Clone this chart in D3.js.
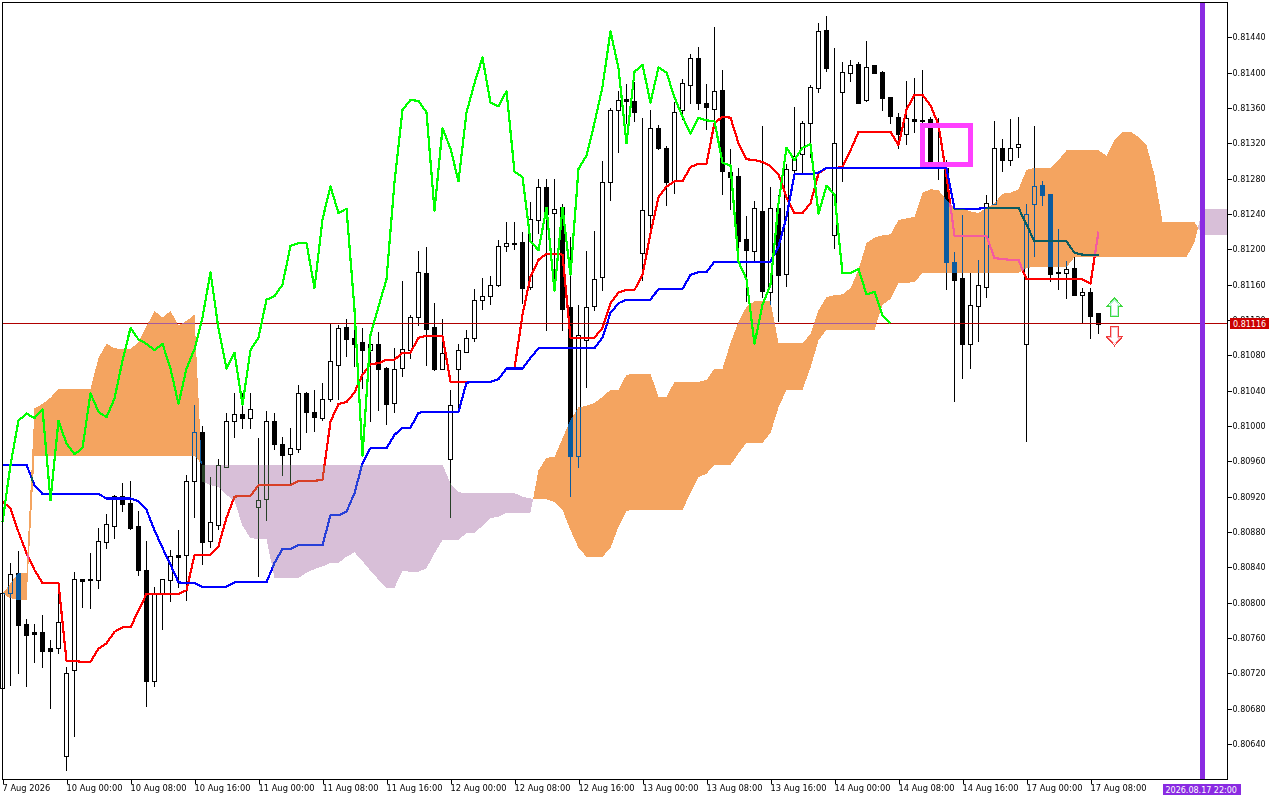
<!DOCTYPE html>
<html>
<head>
<meta charset="utf-8">
<script src="https://d3js.org/d3.v7.min.js"></script>
<style>
html, body { margin: 0; padding: 0; background: #fff; }
svg { display: block; }
text { font-family: "DejaVu Sans", sans-serif; font-size: 8px; }
</style>
</head>
<body>
<svg id="chart" width="1280" height="800"></svg>
<script>
var open = [0.80704,0.80810,0.80834,0.80776,0.80767,0.80767,0.80749,0.80749,0.80626,0.80724,
0.80827,0.80826,0.80826,0.80869,0.80887,0.80921,0.80913,0.80887,0.80837,0.80711,
0.80811,0.80826,0.80854,0.80854,0.80937,0.80993,0.80870,0.80888,0.80954,0.81006,
0.81014,0.81009,0.80908,0.80918,0.81006,0.80980,0.80968,0.80974,0.81037,0.81016,
0.81010,0.81031,0.81069,0.81112,0.81100,0.81095,0.81086,0.81093,0.81066,0.81027,
0.81065,0.81086,0.81123,0.81173,0.81112,0.81065,0.80963,0.81065,0.81084,0.81100,
0.81143,0.81148,0.81160,0.81204,0.81206,0.81208,0.81157,0.81234,0.81271,0.81241,
0.81248,0.81135,0.80966,0.81098,0.81135,0.81168,0.81276,0.81358,0.81370,0.81368,
0.81195,0.81239,0.81337,0.81315,0.81277,0.81357,0.81387,0.81417,0.81366,0.81359,
0.81380,0.81288,0.81283,0.81212,0.81198,0.81243,0.81152,0.81247,0.81172,0.81290,
0.81308,0.81343,0.81383,0.81448,0.81216,0.81378,0.81400,0.81410,0.81369,0.81409,
0.81401,0.81372,0.81350,0.81331,0.81348,0.81346,0.81348,0.81294,0.81292,0.81186,
0.81168,0.81093,0.81136,0.81157,0.81252,0.81315,0.81301,0.81316,0.81093,0.81252,
0.81273,0.81263,0.81174,0.81173,0.81179,0.81149,0.81152,0.81128];
var high = [0.80811,0.80845,0.80859,0.80781,0.80776,0.80786,0.80758,0.80811,0.80727,0.80835,
0.80827,0.80856,0.80885,0.80900,0.80922,0.80935,0.80938,0.80904,0.80870,0.80818,
0.80827,0.80860,0.80882,0.80945,0.81024,0.81000,0.80942,0.80963,0.81015,0.81037,
0.81037,0.81037,0.80986,0.81017,0.81015,0.80988,0.80998,0.81046,0.81038,0.81041,
0.81049,0.81117,0.81114,0.81121,0.81112,0.81111,0.81103,0.81106,0.81067,0.81088,
0.81164,0.81126,0.81198,0.81203,0.81139,0.81121,0.81041,0.81093,0.81109,0.81155,
0.81168,0.81170,0.81210,0.81231,0.81231,0.81220,0.81254,0.81280,0.81280,0.81280,
0.81251,0.81214,0.81137,0.81198,0.81221,0.81300,0.81360,0.81379,0.81387,0.81389,
0.81349,0.81358,0.81341,0.81317,0.81367,0.81393,0.81421,0.81429,0.81387,0.81452,
0.81403,0.81314,0.81292,0.81238,0.81255,0.81340,0.81271,0.81262,0.81297,0.81361,
0.81345,0.81386,0.81456,0.81464,0.81428,0.81412,0.81414,0.81412,0.81436,0.81409,
0.81402,0.81372,0.81354,0.81391,0.81394,0.81403,0.81350,0.81349,0.81301,0.81197,
0.81239,0.81173,0.81188,0.81262,0.81345,0.81325,0.81348,0.81350,0.81251,0.81340,
0.81277,0.81263,0.81223,0.81187,0.81191,0.81156,0.81156,0.81128];
var low = [0.80701,0.80706,0.80719,0.80704,0.80732,0.80726,0.80680,0.80742,0.80609,0.80648,
0.80794,0.80793,0.80815,0.80861,0.80872,0.80903,0.80882,0.80830,0.80682,0.80704,
0.80769,0.80801,0.80817,0.80802,0.80896,0.80843,0.80862,0.80882,0.80954,0.80986,
0.80997,0.80997,0.80829,0.80892,0.80973,0.80943,0.80934,0.80969,0.80992,0.80993,
0.81006,0.81027,0.81029,0.81078,0.81067,0.81042,0.81005,0.81017,0.81001,0.81015,
0.81056,0.81076,0.81113,0.81068,0.81062,0.81065,0.80896,0.81016,0.81083,0.81095,
0.81131,0.81137,0.81157,0.81197,0.81199,0.81138,0.81154,0.81217,0.81107,0.81152,
0.81107,0.80920,0.80952,0.81043,0.81130,0.81153,0.81255,0.81309,0.81342,0.81344,
0.81164,0.81220,0.81312,0.81249,0.81263,0.81346,0.81365,0.81358,0.81335,0.81343,
0.81262,0.81244,0.81186,0.81140,0.81186,0.81145,0.81137,0.81118,0.81157,0.81278,
0.81286,0.81303,0.81377,0.81401,0.81200,0.81276,0.81389,0.81365,0.81367,0.81399,
0.81357,0.81342,0.81314,0.81318,0.81332,0.81343,0.81295,0.81278,0.81154,0.81027,
0.81053,0.81065,0.81095,0.81145,0.81252,0.81288,0.81294,0.81303,0.80982,0.81191,
0.81249,0.81163,0.81154,0.81144,0.81149,0.81117,0.81098,0.81104];
var close = [0.80811,0.80832,0.80775,0.80763,0.80765,0.80746,0.80746,0.80778,0.80720,0.80827,
0.80825,0.80827,0.80870,0.80889,0.80921,0.80912,0.80885,0.80837,0.80711,0.80811,
0.80827,0.80853,0.80852,0.80938,0.80993,0.80869,0.80891,0.80956,0.81006,0.81014,
0.81009,0.81019,0.80916,0.81006,0.80980,0.80968,0.80975,0.81037,0.81016,0.81010,
0.81031,0.81074,0.81111,0.81098,0.81093,0.81086,0.81093,0.81065,0.81025,0.81065,
0.81087,0.81123,0.81174,0.81110,0.81065,0.81083,0.81024,0.81086,0.81100,0.81143,
0.81147,0.81160,0.81204,0.81207,0.81207,0.81156,0.81234,0.81271,0.81241,0.81246,
0.81132,0.80966,0.81103,0.81135,0.81166,0.81276,0.81358,0.81369,0.81368,0.81355,
0.81244,0.81337,0.81314,0.81277,0.81355,0.81388,0.81417,0.81366,0.81362,0.81379,
0.81288,0.81282,0.81209,0.81199,0.81247,0.81153,0.81247,0.81171,0.81291,0.81306,
0.81343,0.81384,0.81447,0.81405,0.81320,0.81401,0.81409,0.81366,0.81406,0.81400,
0.81372,0.81350,0.81331,0.81349,0.81346,0.81345,0.81298,0.81295,0.81186,0.81166,
0.81093,0.81137,0.81160,0.81252,0.81315,0.81301,0.81315,0.81319,0.81240,0.81272,
0.81262,0.81173,0.81173,0.81178,0.81149,0.81152,0.81125,0.81116];

var tenkan = [0.80914,0.80907,0.80880,0.80856,0.80837,0.80822,0.80822,0.80822,0.80734,0.80734,
0.80733,0.80733,0.80748,0.80754,0.80767,0.80772,0.80772,0.80791,0.80810,0.80810,
0.80810,0.80810,0.80810,0.80814,0.80854,0.80854,0.80854,0.80864,0.80896,0.80920,
0.80921,0.80921,0.80933,0.80933,0.80933,0.80933,0.80933,0.80938,0.80938,0.80938,
0.80939,0.81005,0.81025,0.81027,0.81038,0.81058,0.81070,0.81071,0.81075,0.81075,
0.81083,0.81083,0.81100,0.81102,0.81102,0.81102,0.81050,0.81050,0.81050,0.81050,
0.81050,0.81050,0.81053,0.81065,0.81065,0.81126,0.81169,0.81188,0.81195,0.81195,
0.81194,0.81100,0.81100,0.81100,0.81100,0.81111,0.81139,0.81151,0.81154,0.81154,
0.81171,0.81218,0.81259,0.81271,0.81277,0.81277,0.81293,0.81297,0.81297,0.81343,
0.81350,0.81349,0.81320,0.81302,0.81301,0.81299,0.81294,0.81285,0.81259,0.81241,
0.81241,0.81252,0.81286,0.81292,0.81292,0.81293,0.81312,0.81333,0.81333,0.81333,
0.81333,0.81333,0.81318,0.81358,0.81375,0.81375,0.81363,0.81341,0.81283,0.81215,
0.81215,0.81215,0.81215,0.81215,0.81190,0.81189,0.81188,0.81188,0.81166,0.81166,
0.81166,0.81166,0.81166,0.81166,0.81166,0.81166,0.81161,0.81220];
var kijun = [0.80956,0.80956,0.80956,0.80956,0.80933,0.80923,0.80923,0.80923,0.80923,0.80923,
0.80923,0.80923,0.80923,0.80918,0.80918,0.80918,0.80918,0.80915,0.80905,0.80882,
0.80862,0.80843,0.80823,0.80822,0.80822,0.80818,0.80818,0.80818,0.80818,0.80823,
0.80823,0.80823,0.80823,0.80823,0.80845,0.80861,0.80861,0.80865,0.80865,0.80865,
0.80865,0.80899,0.80899,0.80903,0.80924,0.80958,0.80975,0.80975,0.80975,0.80990,
0.80998,0.80998,0.81015,0.81016,0.81016,0.81016,0.81016,0.81016,0.81049,0.81050,
0.81050,0.81050,0.81053,0.81065,0.81065,0.81065,0.81077,0.81088,0.81088,0.81088,
0.81088,0.81088,0.81088,0.81088,0.81088,0.81100,0.81128,0.81139,0.81143,0.81143,
0.81143,0.81143,0.81155,0.81155,0.81155,0.81155,0.81171,0.81174,0.81174,0.81186,
0.81186,0.81186,0.81186,0.81186,0.81186,0.81186,0.81186,0.81203,0.81237,0.81285,
0.81285,0.81285,0.81287,0.81292,0.81292,0.81292,0.81292,0.81292,0.81292,0.81292,
0.81292,0.81292,0.81292,0.81292,0.81292,0.81292,0.81292,0.81292,0.81292,0.81246,
0.81246,0.81246,0.81246,0.81247,0.81247,0.81247,0.81247,0.81247,0.81228,0.81209,
0.81209,0.81209,0.81209,0.81209,0.81196,0.81194,0.81194,0.81194];
// chikou is just the close drawn 26 bars back
var chikou = close.slice(26);
var senkouA = [0.80810,0.80822,0.80834,0.80834,0.81020,0.81025,0.81032,0.81042,0.81042,0.81042,
0.81042,0.81042,0.81077,0.81093,0.81088,0.81087,0.81087,0.81095,0.81113,0.81130,
0.81123,0.81130,0.81114,0.81119,0.81126,0.80937,0.80933,0.80931,0.80922,0.80915,
0.80887,0.80873,0.80872,0.80872,0.80828,0.80828,0.80828,0.80828,0.80834,0.80838,
0.80841,0.80845,0.80845,0.80852,0.80857,0.80847,0.80836,0.80826,0.80817,0.80817,
0.80836,0.80835,0.80835,0.80839,0.80856,0.80871,0.80871,0.80871,0.80879,0.80879,
0.80887,0.80896,0.80897,0.80902,0.80902,0.80902,0.80902,0.80950,0.80964,0.80965,
0.80986,0.81007,0.81021,0.81023,0.81026,0.81033,0.81041,0.81041,0.81058,0.81059,
0.81059,0.81059,0.81033,0.81033,0.81050,0.81050,0.81050,0.81050,0.81052,0.81065,
0.81065,0.81094,0.81118,0.81135,0.81141,0.81141,0.81141,0.81094,0.81094,0.81094,
0.81094,0.81104,0.81131,0.81146,0.81148,0.81149,0.81156,0.81177,0.81207,0.81213,
0.81216,0.81217,0.81233,0.81235,0.81237,0.81264,0.81268,0.81267,0.81256,0.81246,
0.81246,0.81243,0.81241,0.81247,0.81252,0.81263,0.81264,0.81268,0.81290,0.81292,
0.81292,0.81292,0.81301,0.81312,0.81312,0.81312,0.81312,0.81312,0.81306,0.81324,
0.81333,0.81333,0.81327,0.81318,0.81284,0.81231,0.81231,0.81231,0.81231,0.81231,
0.81216,0.81216,0.81216,0.81216];
var senkouB = [0.80810,0.80805,0.80803,0.80803,0.80966,0.80966,0.80966,0.80966,0.80966,0.80966,
0.80966,0.80966,0.80966,0.80966,0.80966,0.80966,0.80966,0.80966,0.80966,0.80966,
0.80966,0.80966,0.80966,0.80966,0.80966,0.80956,0.80956,0.80956,0.80956,0.80956,
0.80956,0.80956,0.80956,0.80956,0.80956,0.80956,0.80956,0.80956,0.80956,0.80956,
0.80956,0.80956,0.80956,0.80956,0.80956,0.80956,0.80956,0.80956,0.80956,0.80956,
0.80956,0.80956,0.80956,0.80956,0.80956,0.80956,0.80935,0.80925,0.80924,0.80924,
0.80924,0.80924,0.80924,0.80924,0.80924,0.80920,0.80918,0.80917,0.80917,0.80914,
0.80905,0.80882,0.80862,0.80852,0.80852,0.80852,0.80862,0.80886,0.80904,0.80905,
0.80905,0.80905,0.80905,0.80905,0.80905,0.80905,0.80924,0.80942,0.80946,0.80956,
0.80956,0.80956,0.80969,0.80981,0.80981,0.80981,0.80992,0.81021,0.81041,0.81041,
0.81041,0.81066,0.81097,0.81109,0.81109,0.81109,0.81109,0.81109,0.81109,0.81109,
0.81137,0.81144,0.81162,0.81162,0.81163,0.81173,0.81173,0.81173,0.81173,0.81173,
0.81173,0.81173,0.81173,0.81173,0.81173,0.81173,0.81173,0.81173,0.81179,0.81180,
0.81180,0.81180,0.81180,0.81180,0.81191,0.81191,0.81191,0.81191,0.81191,0.81191,
0.81191,0.81191,0.81191,0.81191,0.81191,0.81191,0.81191,0.81191,0.81191,0.81208,
0.81246,0.81246,0.81246,0.81246];

var priceTicks = [0.80640,0.80680,0.80720,0.80760,0.80800,0.80840,0.80880,0.80920,0.80960,0.81000,0.81040,
0.81080,0.81120,0.81160,0.81200,0.81240,0.81280,0.81320,0.81360,0.81400,0.81440];
var timeBars = [0,8,16,24,32,40,48,56,64,72,80,88,96,104,112,120,128,136];
var timeLabels = ["7 Aug 2026","10 Aug 00:00","10 Aug 08:00","10 Aug 16:00","11 Aug 00:00","11 Aug 08:00",
"11 Aug 16:00","12 Aug 00:00","12 Aug 08:00","12 Aug 16:00","13 Aug 00:00","13 Aug 08:00","13 Aug 16:00",
"14 Aug 00:00","14 Aug 08:00","14 Aug 16:00","17 Aug 00:00","17 Aug 08:00"];
var bidPrice = 0.81116;
var futureBar = 150;
var futureLabel = "2026.08.17 22:00";
var boxBars = [115,121];
var boxPrices = [0.81340,0.81296];
var arrowBar = 139;
var upArrowPrice = 0.81145;
var downArrowPrice = 0.81091;

var svg = d3.select("#chart");
var left = 2.5, right = 1227.5, top_ = 2.5, bottom = 779.5;
var tickFont = '"DejaVu Sans", sans-serif';

var x = d3.scaleLinear().domain([0,150]).range([2.5,1202.5]);
var y = d3.scaleLinear().domain([0.80640,0.81440]).range([744,37.3]);

svg.attr("shape-rendering","crispEdges");
svg.append("rect").attr("width",1280).attr("height",800).attr("fill","#fff");

// candles
var g = svg.append("g");
open.forEach(function (o, i) {
	var c = close[i];
	var up = c >= o;
	g.append("line")
		.attr("x1",x(i)).attr("x2",x(i))
		.attr("y1",y(high[i])).attr("y2",y(low[i]))
		.attr("stroke","#000");
	g.append("rect")
		.attr("x",x(i)-2).attr("width",4)
		.attr("y",Math.round(y(Math.max(o,c)))+0.5)
		.attr("height",Math.max(1,Math.round(Math.abs(y(o)-y(c)))))
		.attr("fill",up ? "#fff" : "#000")
		.attr("stroke","#000");
});

function drawLine(values, color) {
	var line = d3.line()
		.x(function (d,i) { return x(i); })
		.y(function (d) { return y(d); });
	svg.append("path")
		.attr("d",line(values))
		.attr("fill","none")
		.attr("stroke",color)
		.attr("stroke-width",2.2)
		.attr("stroke-linejoin","round");
}
drawLine(tenkan,"#ff0000");
drawLine(kijun,"#0000ff");

// bid line goes under the cloud, it shows through with the same blending
var bidY = Math.floor(y(bidPrice))+0.5;
svg.append("line")
	.attr("x1",left).attr("x2",right)
	.attr("y1",bidY).attr("y2",bidY)
	.attr("stroke","#b00000");

// split the cloud at each crossing so both colours meet in a point
function cloudRuns(a, b) {
	var runs = [], cur = null;
	for (var i = 0 ; i < a.length ; ++i) {
		var isUp = a[i] >= b[i];
		if (cur == null || cur.up != isUp) {
			var pts = [];
			if (cur != null) {
				var d0 = a[i-1] - b[i-1], d1 = a[i] - b[i];
				var t = d0 / (d0 - d1);
				var p = {i: i - 1 + t, a: a[i-1] + (a[i]-a[i-1]) * t, b: a[i-1] + (a[i]-a[i-1]) * t};
				cur.pts.push(p);
				pts.push(p);
			}
			cur = {up: isUp, pts: pts};
			runs.push(cur);
		}
		cur.pts.push({i: i, a: a[i], b: b[i]});
	}
	return runs;
}
var cloudArea = d3.area()
	.x(function (d) { return x(d.i); })
	.y0(function (d) { return y(d.b); })
	.y1(function (d) { return y(d.a); });
// difference against white gives sandybrown and thistle, and against
// the black, red and blue marks it gives the terminal's xor colours
cloudRuns(senkouA,senkouB).forEach(function (r) {
	svg.append("path")
		.attr("d",cloudArea(r.pts))
		.attr("fill",r.up ? "#0b5b9f" : "#274027")
		.style("mix-blend-mode","difference");
});

drawLine(chikou,"#00ff00");

// future bar marker
svg.append("line")
	.attr("x1",x(futureBar)).attr("x2",x(futureBar))
	.attr("y1",top_).attr("y2",bottom)
	.attr("stroke","#8a2be2").attr("stroke-width",5);

// box
svg.append("rect")
	.attr("x",x(boxBars[0])).attr("y",y(boxPrices[0]))
	.attr("width",x(boxBars[1])-x(boxBars[0]))
	.attr("height",y(boxPrices[1])-y(boxPrices[0]))
	.attr("fill","none").attr("stroke","#ff40ff").attr("stroke-width",4.5);

// arrows, outer edge plus a paler inner one
function arrow(bar, price, dir, color, inner) {
	var cx = x(bar), cy = y(price);
	var outerShape = [[0,0],[8,9],[4,9],[4,19],[-4,19],[-4,9],[-8,9]];
	var innerShape = [[0,2],[5.5,8],[3,8],[3,18],[-3,18],[-3,8],[-5.5,8]];
	function pts(shape) {
		return shape.map(function (p) { return (cx+p[0]) + "," + (cy+p[1]*dir); }).join(" ");
	}
	svg.append("polygon").attr("points",pts(outerShape))
		.attr("fill","#fff").attr("stroke",color).attr("stroke-width",1.2);
	svg.append("polygon").attr("points",pts(innerShape))
		.attr("fill","#fff").attr("stroke",inner).attr("stroke-width",1);
}
arrow(arrowBar,upArrowPrice,1,"#3fd83f","#b8f0d8");
arrow(arrowBar,downArrowPrice,-1,"#f03a3a","#f8c0c8");

// frame
svg.append("rect")
	.attr("x",left).attr("y",top_)
	.attr("width",right-left).attr("height",bottom-top_)
	.attr("fill","none").attr("stroke","#000");

// axes
var yAxis = d3.axisRight(y).tickValues(priceTicks).tickSize(4).tickPadding(1)
	.tickFormat(d3.format(".5f"));
var yg = svg.append("g").attr("transform","translate(" + right + ",0)").call(yAxis);
yg.select(".domain").remove();
yg.selectAll("text").attr("fill","#000").style("font-family",tickFont).style("font-size","8px");

var xAxis = d3.axisBottom(x).tickValues(timeBars).tickSize(4).tickPadding(2)
	.tickFormat(function (d,i) { return timeLabels[i]; });
var xg = svg.append("g").attr("transform","translate(0," + bottom + ")").call(xAxis);
xg.select(".domain").remove();
xg.selectAll("text").attr("text-anchor","start").attr("dx","-0.5").attr("fill","#000")
	.style("font-family",tickFont).style("font-size","8.3px");

// bid label
svg.append("rect").attr("x",1230).attr("y",318).attr("width",39).attr("height",11).attr("fill","#cc0000");
svg.append("text").attr("x",1233).attr("y",y(bidPrice)+3).attr("fill","#fff").text(d3.format(".5f")(bidPrice));

// future time label
svg.append("rect").attr("x",1163).attr("y",784).attr("width",78).attr("height",11).attr("fill","#8a2be2");
svg.append("text").attr("x",1165.5).attr("y",792.5).attr("fill","#fff").text(futureLabel);
</script>
</body>
</html>
